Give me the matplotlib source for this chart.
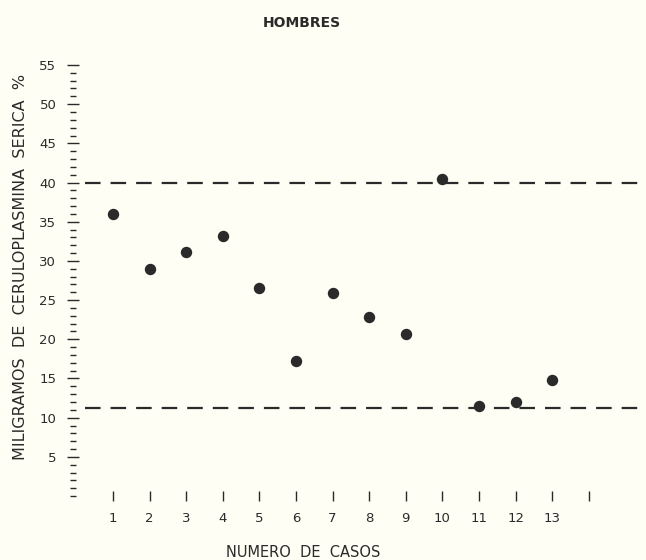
import matplotlib
matplotlib.use("Agg")
import matplotlib.pyplot as plt
import numpy as np

# data
casos = [1, 2, 3, 4, 5, 6, 7, 8, 9, 10, 11, 12, 13]
ceruloplasmina = [36.0, 29.0, 31.1, 33.2, 26.5, 17.2, 25.9, 22.8, 20.7, 40.4, 11.5, 12.0, 14.8]
limite_sup = 40.0
limite_inf = 11.2
xtick_pos = [1, 2, 3, 4, 5, 6, 7, 8, 9, 10, 11, 12, 13, 14]
xtick_lab = ["1", "2", "3", "4", "5", "6", "7", "8", "9", "10", "11", "12", "13", ""]
ytick_major = [5, 10, 15, 20, 25, 30, 35, 40, 45, 50, 55]

bg = "#fffef4"
ink = "#2a2a2a"

fig = plt.figure(figsize=(6.46, 5.6), dpi=100, facecolor=bg)
ax = fig.add_axes([0.113, 0.1107, 0.8777, 0.7761], facecolor=bg)

ax.set_xlim(-0.093, 15.4)
ax.set_ylim(-0.25, 55.2)

# dashed reference limits, starting a little right of the y scale
ax.hlines([limite_sup, limite_inf], 0.235, 15.4, color=ink, lw=1.6,
          linestyles=(0, (7, 4.5)))
ax.plot(casos, ceruloplasmina, "o", color=ink, markersize=7.2, zorder=3)

for s in ax.spines.values():
    s.set_visible(False)
ax.spines["bottom"].set_position(("data", 0.0))

ax.set_xticks(xtick_pos)
ax.set_xticklabels(xtick_lab)
ax.tick_params(axis="x", direction="inout", length=7, width=1.0, color=ink,
               labelsize=9.5, labelcolor=ink, pad=8)

ax.set_yticks(ytick_major)
ax.set_yticks(np.arange(0, 56, 1), minor=True)
ax.tick_params(axis="y", which="major", direction="inout", length=8, width=1.0,
               color=ink, labelsize=9.5, labelcolor=ink, pad=8)
ax.tick_params(axis="y", which="minor", direction="inout", length=4.5, width=1.0,
               color=ink)

fig.text(0.467, 0.959, "HOMBRES", ha="center", va="center", fontsize=10,
         color=ink, fontweight="bold")
fig.text(0.031, 0.523, "MILIGRAMOS  DE  CERULOPLASMINA  SERICA  %", rotation=90,
         ha="center", va="center", fontsize=11.5, color=ink)
fig.text(0.469, 0.014, "NUMERO  DE  CASOS", ha="center", va="center",
         fontsize=10.5, color=ink)

fig.savefig("out.png", dpi=100, facecolor=bg)
